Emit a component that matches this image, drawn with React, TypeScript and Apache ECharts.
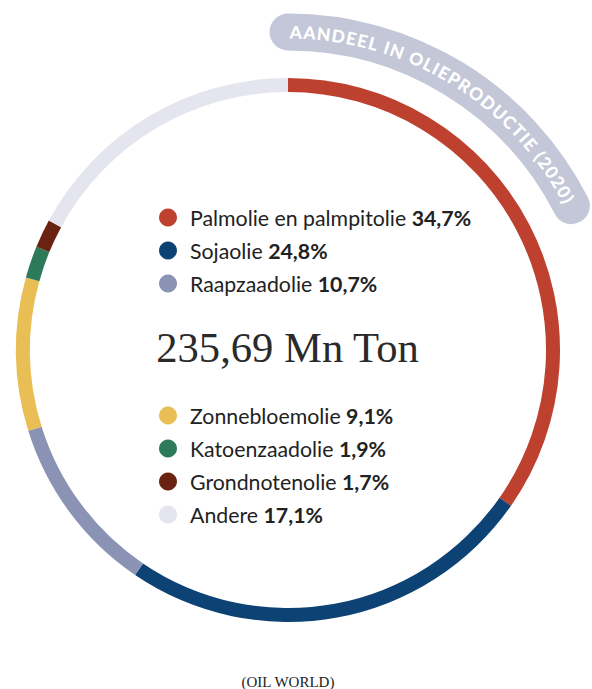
import React, { useEffect, useRef } from "react";
import * as echarts from "echarts";

const categories = [
  "Palmolie en palmpitolie",
  "Sojaolie",
  "Raapzaadolie",
  "Zonnebloemolie",
  "Katoenzaadolie",
  "Grondnotenolie",
  "Andere",
];
const shares = [34.7, 24.8, 10.7, 9.1, 1.9, 1.7, 17.1];
const colors = ["#BE4130", "#0D4274", "#8A93B3", "#E9BE55", "#2D7A5B", "#6A2211", "#E4E5EE"];
const totalLabel = "235,69 Mn Ton";
const titleText = "AANDEEL IN OLIEPRODUCTIE (2020)";
const sourceText = "(OIL WORLD)";

const CX = 288;
const CY = 350;

function curvedTitle(): any[] {
  const R = 318;
  const fontSize = 17.5;
  const fontFamily = "Lato";
  const fontWeight = 900;
  const canvas = document.createElement("canvas");
  const ctx = canvas.getContext("2d") as CanvasRenderingContext2D;
  ctx.font = `${fontWeight} ${fontSize}px ${fontFamily}`;
  const chars = Array.from(titleText);
  const widths = chars.map((c) => ctx.measureText(c).width);
  const a0 = (0.3 * Math.PI) / 180;
  const a1 = (62.2 * Math.PI) / 180;
  const L = (a1 - a0) * R;
  const sum = widths.reduce((a, b) => a + b, 0);
  const gap = (L - sum) / (chars.length - 1);
  let pos = 0;
  const els: any[] = [
    {
      type: "arc",
      silent: true,
      z: 10,
      shape: {
        cx: CX,
        cy: CY,
        r: R,
        startAngle: -Math.PI / 2,
        endAngle: -Math.PI / 2 + (63 * Math.PI) / 180,
        clockwise: true,
      },
      style: { stroke: "#C3C7D8", lineWidth: 37, lineCap: "round", fill: null },
    },
  ];
  chars.forEach((c, i) => {
    const center = pos + widths[i] / 2;
    const th = a0 + center / R;
    els.push({
      type: "text",
      silent: true,
      z: 11,
      x: CX + R * Math.sin(th),
      y: CY - R * Math.cos(th),
      rotation: -th,
      style: {
        text: c,
        fontFamily,
        fontSize,
        fontWeight,
        fill: "#ffffff",
        align: "center",
        verticalAlign: "middle",
      },
    });
    pos += widths[i] + gap;
  });
  return els;
}

export default function App() {
  const ref = useRef<HTMLDivElement>(null);
  useEffect(() => {
    if (!ref.current) return;
    const chart = echarts.init(ref.current, undefined, { renderer: "svg" });
    const fmt = (name: string) => {
      const i = categories.indexOf(name);
      return `{n|${name}} {v|${shares[i].toFixed(1).replace(".", ",")}%}`;
    };
    const FS = 21.3;
    const legendBase: any = {
      orient: "vertical",
      left: 159,
      icon: "circle",
      itemWidth: 18,
      itemHeight: 18,
      itemGap: 12,
      padding: 0,
      selectedMode: false,
      formatter: fmt,
      textStyle: {
        fontFamily: "Lato",
        fontSize: FS,
        lineHeight: 18,
        color: "#222",
        rich: {
          n: { fontFamily: "Lato", fontSize: FS, color: "#222", padding: [0, 0, 0, 8], lineHeight: 18 },
          v: { fontFamily: "Lato", fontSize: FS, fontWeight: "bold", color: "#222", lineHeight: 18 },
        },
      },
    };
    chart.setOption({
      animation: false,
      backgroundColor: "#ffffff",
      legend: [
        { ...legendBase, top: 207, data: categories.slice(0, 3) },
        { ...legendBase, top: 405, data: categories.slice(3) },
      ],
      series: [
        {
          type: "pie",
          center: [CX, CY],
          radius: [258, 272],
          startAngle: 90,
          clockwise: true,
          silent: true,
          label: { show: false },
          labelLine: { show: false },
          emphasis: { disabled: true },
          data: categories.map((name, i) => ({
            name,
            value: shares[i],
            itemStyle: { color: colors[i] },
          })),
        },
      ],
      graphic: [
        ...curvedTitle(),
        {
          type: "text",
          silent: true,
          x: CX - 0.5,
          y: 347,
          style: {
            text: totalLabel,
            fontFamily: "Liberation Serif",
            fontSize: 42.6,
            fill: "#2a2a2a",
            align: "center",
            verticalAlign: "middle",
          },
        },
        {
          type: "text",
          silent: true,
          x: CX,
          y: 682,
          style: {
            text: sourceText,
            fontFamily: "Liberation Serif",
            fontSize: 15,
            fill: "#222",
            align: "center",
            verticalAlign: "middle",
          },
        },
      ],
    });
    return () => chart.dispose();
  }, []);
  return (
    <div
      ref={ref}
      style={{ position: "absolute", left: 0, top: 0, width: 592, height: 689, background: "#fff" }}
    />
  );
}
